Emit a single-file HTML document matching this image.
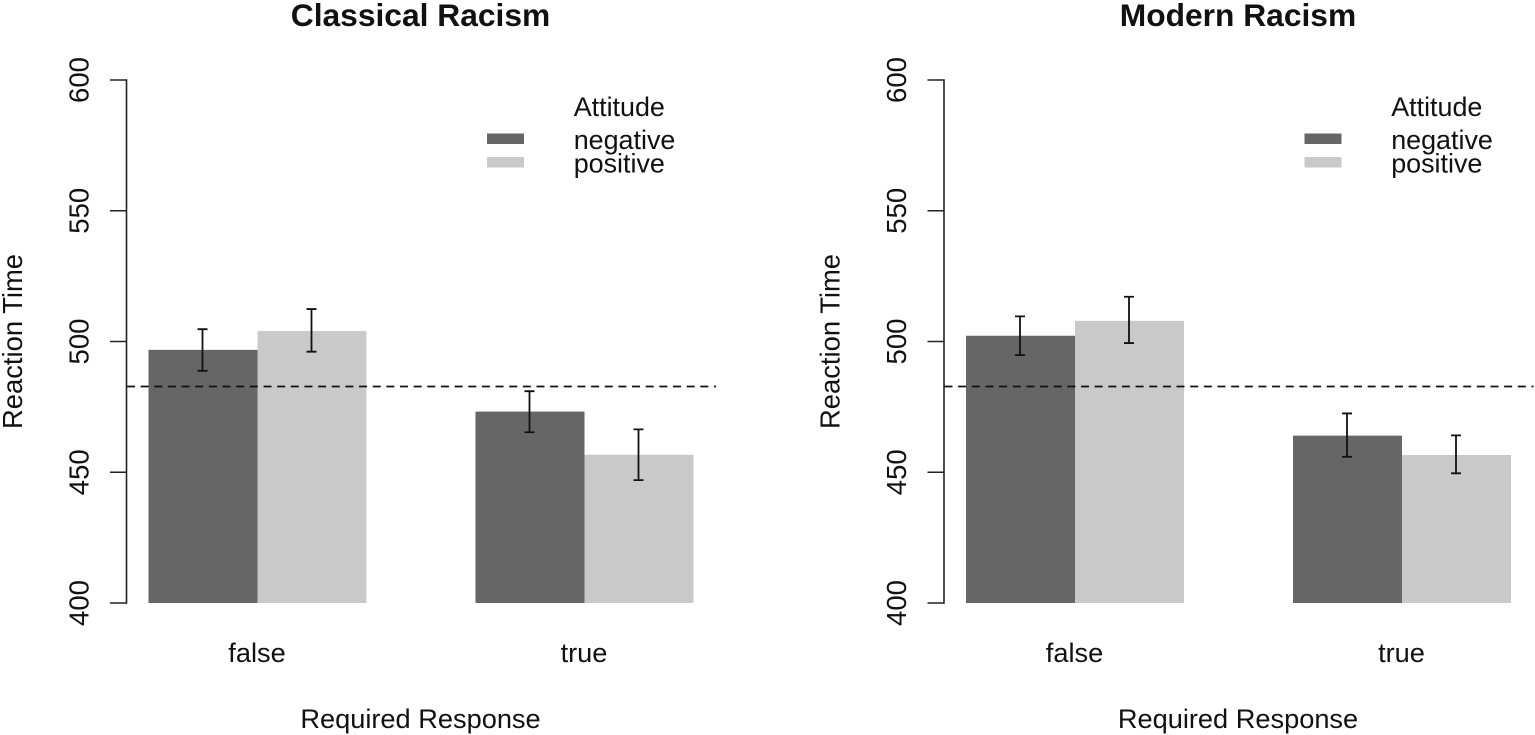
<!DOCTYPE html>
<html lang="en">
<head>
<meta charset="utf-8">
<title>Reaction Time by Required Response and Attitude</title>
<style>
html,body{margin:0;padding:0;background:#fff;width:1535px;height:735px;overflow:hidden}
svg{display:block}
text{font-family:"Liberation Sans",Arial,sans-serif;fill:#111}
</style>
</head>
<body>
<svg id="chart" xmlns="http://www.w3.org/2000/svg" width="1535" height="735" viewBox="0 0 1535 735"></svg>
<script>
const categories = ['false', 'true'];
const seriesNames = ['negative', 'positive'];
const yTicks = [400, 450, 500, 550, 600];
const panelTitles = ['Classical Racism', 'Modern Racism'];
const referenceValue = 482.8;

const classicalMeans = [[496.8, 473.2], [504, 456.7]];
const classicalLower = [[488.8, 465.3], [496.1, 447]];
const classicalUpper = [[504.7, 481], [512.4, 466.4]];

const modernMeans = [[502.2, 464], [507.9, 456.6]];
const modernLower = [[494.8, 455.9], [499.4, 449.6]];
const modernUpper = [[509.6, 472.5], [517.1, 464.1]];

const NS = 'http://www.w3.org/2000/svg';
const svg = document.getElementById('chart');
const colors = ['#666666', '#c9c9c9'];
const yScale = v => 603 - (v - 400) * (523 / 200);
const barW = 109;
const groupLeft = [148.5, 475.5];
const labelSize = 27.2;

function make(parent, tag, attrs, txt) {
  const el = document.createElementNS(NS, tag);
  for (const k in attrs) el.setAttribute(k, attrs[k]);
  if (txt !== undefined) el.textContent = txt;
  parent.appendChild(el);
  return el;
}

function drawPanel(dx, idx, means, lower, upper) {
  const g = make(svg, 'g', {transform: 'translate(' + dx + ',0)'});
  
  

  const title = make(g, 'text', {x: 420.5, y: 26, 'text-anchor': 'middle', 'font-size': 31.75, 'font-weight': 'bold'}, panelTitles[idx]);
  
  

  categories.forEach((cat, c) => {
    seriesNames.forEach((name, s) => {
      const x = groupLeft[c] + s * barW;
      const top = yScale(means[s][c]);
      const bar = make(g, 'rect', {x: x, y: top, width: barW, height: yScale(400) - top, fill: colors[s]});
      
      
    });
  });

  const ref = make(g, 'line', {x1: 127, x2: 716, y1: yScale(referenceValue), y2: yScale(referenceValue), stroke: '#111', 'stroke-width': 1.7, 'stroke-dasharray': '8 5.65'});
  
  

  categories.forEach((cat, c) => {
    seriesNames.forEach((name, s) => {
      const cx = groupLeft[c] + s * barW + barW / 2 - 0.5;
      const yU = yScale(upper[s][c]);
      const yL = yScale(lower[s][c]);
      const err = make(g, 'path', {
        d: 'M' + (cx - 5) + ' ' + yU + 'H' + (cx + 5) + 'M' + cx + ' ' + yU + 'V' + yL + 'M' + (cx - 5) + ' ' + yL + 'H' + (cx + 5),
        fill: 'none', stroke: '#111', 'stroke-width': 1.8
      });
      
      
    });
    const lab = make(g, 'text', {x: groupLeft[c] + barW - 0.5, y: 662, 'text-anchor': 'middle', 'font-size': labelSize}, cat);
    
    
  });

  const axis = make(g, 'line', {x1: 126.5, x2: 126.5, y1: yScale(yTicks[0]) + 0.8, y2: yScale(yTicks[yTicks.length - 1]) - 0.8, stroke: '#222', 'stroke-width': 1.6});
  
  

  yTicks.forEach(t => {
    const y = yScale(t);
    const tick = make(g, 'line', {x1: 110, x2: 126.5, y1: y, y2: y, stroke: '#222', 'stroke-width': 1.6});
    
    
    const lab = make(g, 'text', {transform: 'translate(88.5,' + y + ') rotate(-90)', 'text-anchor': 'middle', 'font-size': 27.6}, t);
    
    
  });

  const yTitle = make(g, 'text', {transform: 'translate(22,341.5) rotate(-90)', 'text-anchor': 'middle', 'font-size': 27.4}, 'Reaction Time');
  
  

  const xTitle = make(g, 'text', {x: 420.5, y: 728, 'text-anchor': 'middle', 'font-size': labelSize}, 'Required Response');
  
  

  const legTitle = make(g, 'text', {x: 573.7, y: 116, 'font-size': 26.9}, 'Attitude');
  
  

  seriesNames.forEach((name, s) => {
    const sw = make(g, 'rect', {x: 487, y: 133.5 + s * 23.5, width: 37, height: 10.5, fill: colors[s]});
    
    
    const lab = make(g, 'text', {x: 573.7, y: 149 + s * 23.5, 'font-size': 26.9}, name);
    
    
  });
}

drawPanel(0, 0, classicalMeans, classicalLower, classicalUpper);
drawPanel(817.5, 1, modernMeans, modernLower, modernUpper);
</script>
</body>
</html>
